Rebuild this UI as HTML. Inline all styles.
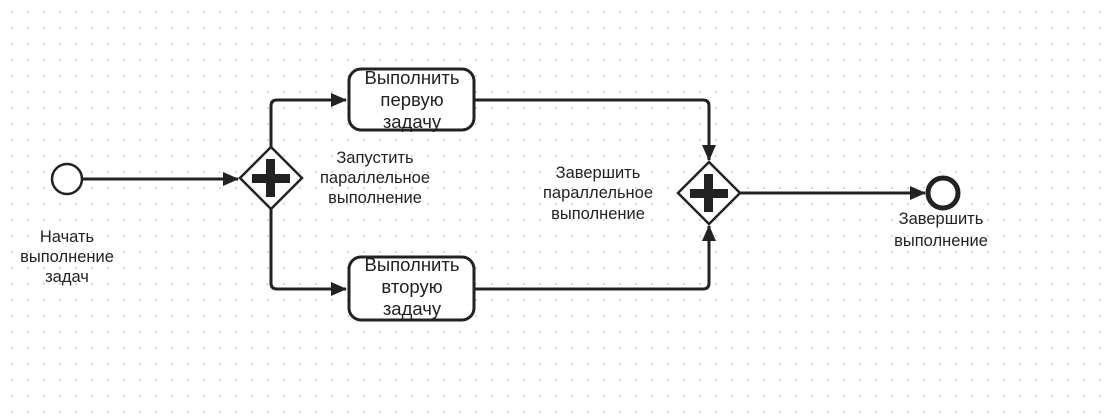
<!DOCTYPE html>
<html><head><meta charset="utf-8"><style>
html,body{margin:0;padding:0;background:#fff;}
body{width:1112px;height:416px;overflow:hidden;
background-image:radial-gradient(circle,#d8d8d8 1px,transparent 1.3px);background-size:16px 16px;background-position:4px 4px;}
svg{position:absolute;left:0;top:0}
text{font-family:"Liberation Sans",sans-serif;fill:#222;}
</style></head><body>
<svg width="1112" height="416" viewBox="0 0 1112 416">
<defs>
<marker id="b" markerWidth="16" markerHeight="14" refX="15" refY="7" orient="auto" markerUnits="userSpaceOnUse"><path d="M0,0 L16,7 L0,14z" fill="#222"/></marker></defs>
<g stroke="#222" stroke-width="3" fill="none">
<line x1="83" y1="179" x2="238" y2="179" marker-end="url(#b)"/>
<path d="M271,147 V106 Q271,100 277,100 H346" marker-end="url(#b)"/>
<path d="M271,209 V283 Q271,289 277,289 H346" marker-end="url(#b)"/>
<path d="M475,100 H703 Q709,100 709,106 V160" marker-end="url(#b)"/>
<path d="M475,289 H703 Q709,289 709,283 V226" marker-end="url(#b)"/>
<line x1="740" y1="193" x2="925" y2="193" marker-end="url(#b)"/>
<circle cx="67" cy="179" r="15" fill="#fff" stroke-width="2.5"/>
<circle cx="943" cy="193" r="15" fill="#fff" stroke-width="5"/>
<polygon points="271,147 302,178 271,209 240,178" fill="#fff" stroke-width="2.5"/>
<polygon points="709,162 740,193 709,224 678,193" fill="#fff" stroke-width="2.5"/>
<rect x="349" y="69" width="125" height="61" rx="12" fill="#fff"/>
<rect x="349" y="257" width="125" height="63" rx="12" fill="#fff"/>
</g>
<g fill="#222">
<rect x="252" y="174" width="38" height="9"/><rect x="266" y="159" width="9" height="38"/>
<rect x="690" y="189" width="38" height="9"/><rect x="704" y="174" width="9" height="38"/>
</g>
<g font-size="18.5" text-anchor="middle">
<text x="412" y="84">Выполнить</text><text x="412" y="106">первую</text><text x="412" y="128">задачу</text>
<text x="412" y="271">Выполнить</text><text x="412" y="293">вторую</text><text x="412" y="315">задачу</text>
</g>
<g font-size="16.5" text-anchor="middle">
<text x="67" y="242">Начать</text><text x="67" y="262">выполнение</text><text x="67" y="282">задач</text>
<text x="375" y="163">Запустить</text><text x="375" y="183">параллельное</text><text x="375" y="203">выполнение</text>
<text x="598" y="178">Завершить</text><text x="598" y="198">параллельное</text><text x="598" y="219">выполнение</text>
<text x="941" y="224">Завершить</text><text x="941" y="246">выполнение</text>
</g>
</svg>
</body></html>
